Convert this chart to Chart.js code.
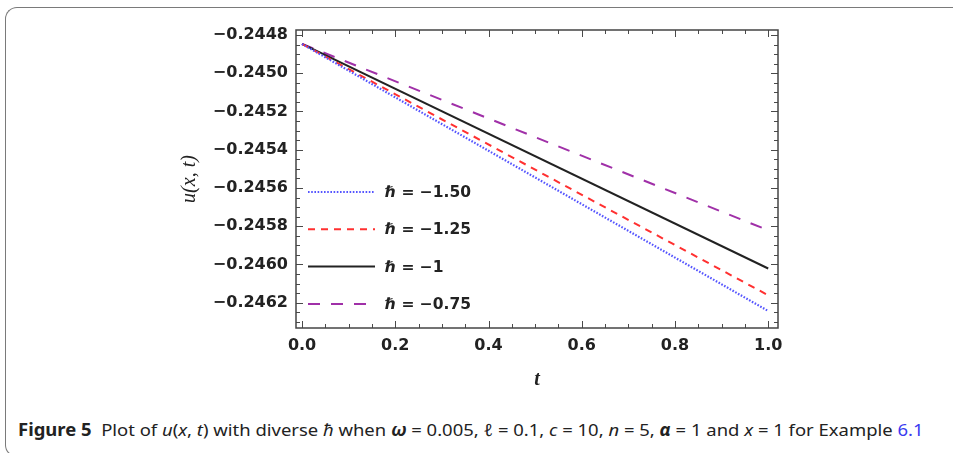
<!DOCTYPE html>
<html><head><meta charset="utf-8">
<script src="https://cdn.jsdelivr.net/npm/chart.js@4.4.1/dist/chart.umd.min.js"></script>
<style>
html,body{margin:0;padding:0;background:#fff;width:953px;height:453px;overflow:hidden;}
#frame{position:absolute;left:5px;top:7px;width:1100px;height:450px;border-left:1.5px solid #7a7a7a;border-top:1.5px solid #7a7a7a;border-bottom:1.5px solid #7a7a7a;border-radius:12px 0 0 12px;box-sizing:border-box}
#wrap{position:absolute;left:0;top:0;width:953px;height:400px}
#cap{position:absolute;left:18px;top:418px;white-space:nowrap;font-family:'Noto Sans','Open Sans',sans-serif;font-size:17px;color:#222;transform-origin:0 0;line-height:23px}
#cap .b{font-weight:bold}
#cap .i{font-style:italic}
#cap .bl{color:#3a3af0}
</style></head>
<body>
<div id="frame"></div>
<div id="wrap"><canvas id="c" width="953" height="400"></canvas></div>
<div id="cap"><span class="b">Figure 5</span>&nbsp; Plot of <span class="i">u</span>(<span class="i">x</span>, <span class="i">t</span>) with diverse <span class="i">ℏ</span> when <span class="b i">ω</span> = 0.005, <span class="i">ℓ</span> = 0.1, <span class="i">c</span> = 10, <span class="i">n</span> = 5, <span class="b i">α</span> = 1 and <span class="i">x</span> = 1 for Example <span class="bl">6.1</span></div>
<script>
// ---- data ----
const tValues = [0, 1];
const seriesLabels = ['ℏ = −1.50', 'ℏ = −1.25', 'ℏ = −1', 'ℏ = −0.75'];
const uHbarM150 = [-0.244847, -0.246243];
const uHbarM125 = [-0.244847, -0.246161];
const uHbarM100 = [-0.244847, -0.246021];
const uHbarM075 = [-0.244847, -0.245821];
const xTickValues = [0, 0.2, 0.4, 0.6, 0.8, 1.0];
const yTickValues = [-0.2448, -0.2450, -0.2452, -0.2454, -0.2456, -0.2458, -0.2460, -0.2462];
const xMinorStep = 0.05;
const yMinorStep = 0.00005;

const toPts = arr => arr.map((v, i) => ({x: tValues[i], y: v}));

const styles = [
  {c: '#5555ff', dash: [1.6, 1.6], w: 2.2},
  {c: '#ff3030', dash: [7, 6], w: 2},
  {c: '#222222', dash: [], w: 2},
  {c: '#a030a8', dash: [12, 11], w: 2}
];
const seriesData = [uHbarM150, uHbarM125, uHbarM100, uHbarM075];

const datasets = seriesData.map((d, i) => ({
  label: seriesLabels[i],
  data: toPts(d),
  borderColor: styles[i].c,
  borderDash: styles[i].dash,
  borderWidth: styles[i].w,
  pointRadius: 0,
  fill: false,
  tension: 0
}));

const frameTicks = {
  id: 'frameTicks',
  afterDatasetsDraw(chart) {
    const {ctx, chartArea: a, scales: {x, y}} = chart;
    ctx.save();
    ctx.strokeStyle = '#4a4a4a';
    ctx.lineWidth = 1;
    const tick = (px, len, vertical) => {
      ctx.beginPath();
      if (vertical) {
        ctx.moveTo(px, a.bottom); ctx.lineTo(px, a.bottom - len);
        ctx.moveTo(px, a.top); ctx.lineTo(px, a.top + len);
      } else {
        ctx.moveTo(a.left, px); ctx.lineTo(a.left + len, px);
        ctx.moveTo(a.right, px); ctx.lineTo(a.right - len, px);
      }
      ctx.stroke();
    };
    for (let k = -1; k <= 21; k++) {
      const v = k * xMinorStep;
      const px = x.getPixelForValue(v);
      if (px < a.left || px > a.right) continue;
      tick(Math.round(px) + 0.5, (k % 4 === 0) ? 7 : 4, true);
    }
    for (let k = -4; k <= 34; k++) {
      const v = -0.2448 - k * yMinorStep;
      const px = y.getPixelForValue(v);
      if (px < a.top || px > a.bottom) continue;
      tick(Math.round(px) + 0.5, (k % 4 === 0) ? 7 : 4, false);
    }
    ctx.lineWidth = 1.5;
    ctx.strokeStyle = '#444';
    ctx.strokeRect(a.left, a.top, a.right - a.left, a.bottom - a.top);
    // legend inside the plot
    const lx0 = a.left + 12, lx1 = a.left + 79, tx = a.left + 89;
    ctx.font = 'bold 15.5px "DejaVu Sans"';
    ctx.textBaseline = 'middle';
    ctx.textAlign = 'left';
    chart.data.datasets.forEach((ds, i) => {
      const ly = a.top + 162 + i * 37.3;
      ctx.strokeStyle = ds.borderColor;
      ctx.lineWidth = ds.borderWidth;
      ctx.setLineDash(ds.borderDash);
      ctx.beginPath(); ctx.moveTo(lx0, ly); ctx.lineTo(lx1, ly); ctx.stroke();
      ctx.setLineDash([]);
      ctx.fillStyle = '#222';
      ctx.fillText(ds.label, tx, ly + 1);
    });
    ctx.restore();
  }
};

new Chart(document.getElementById('c'), {
  type: 'line',
  data: {datasets},
  plugins: [frameTicks],
  options: {
    responsive: false,
    animation: false,
    layout: {padding: {left: 0, top: 30, right: 175, bottom: 0}},
    plugins: {legend: {display: false}, tooltip: {enabled: false}},
    scales: {
      x: {
        type: 'linear', min: -0.013, max: 1.021,
        afterBuildTicks: s => { s.ticks = xTickValues.map(v => ({value: v})); },
        afterFit: s => { s.height = 72; },
        grid: {display: false, drawTicks: false},
        border: {display: false},
        ticks: {padding: 8, autoSkip: false, maxRotation: 0, color: '#222',
          font: {family: 'DejaVu Sans', size: 16, weight: 'bold'},
          callback: v => v.toFixed(1)},
        title: {display: true, text: 't', color: '#222',
          font: {family: 'Liberation Serif', size: 20, style: 'italic', weight: 'bold'},
          padding: {top: 0, bottom: 8}}
      },
      y: {
        type: 'linear', min: -0.246332, max: -0.244774,
        afterBuildTicks: s => { s.ticks = yTickValues.map(v => ({value: v})); },
        afterFit: s => { s.width = 296; },
        grid: {display: false, drawTicks: false},
        border: {display: false},
        ticks: {padding: 8, autoSkip: false, color: '#222',
          font: {family: 'DejaVu Sans', size: 16, weight: 'bold'},
          callback: v => '\u2212' + Math.abs(v).toFixed(4)},
        title: {display: true, text: 'u(x, t)', color: '#222',
          font: {family: 'Liberation Serif', size: 20, style: 'italic'},
          padding: {top: 178, bottom: 0}}
      }
    }
  }
});

const cap = document.getElementById('cap');
const w = cap.scrollWidth;
if (w > 0) cap.style.transform = 'scaleX(' + (905 / w) + ')';
</script>
</body></html>
